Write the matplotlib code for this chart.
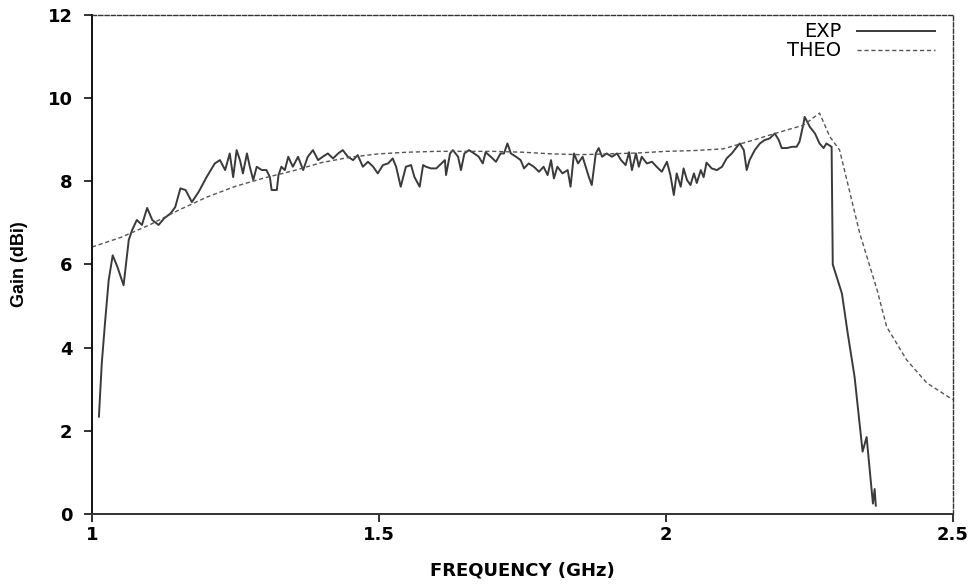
import matplotlib.pyplot as plt
from matplotlib.lines import Line2D

# measured gain (EXP)
exp_freq = [1.012, 1.017, 1.023, 1.029, 1.036, 1.044, 1.055, 1.064, 1.070, 1.078,
            1.087, 1.096, 1.105, 1.116, 1.125, 1.137, 1.145, 1.154, 1.163, 1.174,
            1.186, 1.200, 1.214, 1.223, 1.232, 1.240, 1.246, 1.252, 1.258, 1.263,
            1.270, 1.275, 1.281, 1.287, 1.296, 1.304, 1.310, 1.313, 1.322, 1.325,
            1.330, 1.336, 1.342, 1.350, 1.359, 1.368, 1.376, 1.385, 1.394, 1.402,
            1.411, 1.420, 1.429, 1.437, 1.446, 1.455, 1.463, 1.472, 1.481, 1.490,
            1.498, 1.507, 1.516, 1.524, 1.530, 1.538, 1.547, 1.556, 1.562, 1.571,
            1.577, 1.582, 1.591, 1.600, 1.606, 1.615, 1.617, 1.624, 1.629, 1.638,
            1.643, 1.649, 1.657, 1.666, 1.674, 1.681, 1.686, 1.695, 1.704, 1.712,
            1.718, 1.724, 1.730, 1.739, 1.747, 1.753, 1.761, 1.770, 1.779, 1.787,
            1.794, 1.800, 1.805, 1.811, 1.820, 1.829, 1.834, 1.840, 1.847, 1.855,
            1.866, 1.871, 1.878, 1.883, 1.889, 1.897, 1.906, 1.915, 1.922, 1.930,
            1.936, 1.941, 1.948, 1.953, 1.958, 1.967, 1.976, 1.984, 1.993, 2.002,
            2.008, 2.014, 2.019, 2.026, 2.031, 2.037, 2.043, 2.049, 2.054, 2.061,
            2.066, 2.071, 2.080, 2.089, 2.098, 2.106, 2.115, 2.124, 2.129, 2.136,
            2.141, 2.146, 2.155, 2.164, 2.172, 2.181, 2.190, 2.197, 2.202, 2.211,
            2.220, 2.228, 2.233, 2.240, 2.242, 2.251, 2.260, 2.268, 2.275, 2.280,
            2.289, 2.291, 2.307, 2.317, 2.329, 2.343, 2.350, 2.361, 2.364, 2.366]
exp_gain = [2.34, 3.63, 4.66, 5.62, 6.22, 5.95, 5.50, 6.59, 6.83, 7.07,
            6.95, 7.36, 7.07, 6.95, 7.10, 7.23, 7.38, 7.83, 7.79, 7.50,
            7.75, 8.11, 8.43, 8.51, 8.27, 8.67, 8.10, 8.75, 8.50, 8.19,
            8.67, 8.35, 8.03, 8.35, 8.27, 8.27, 8.10, 7.79, 7.79, 8.15,
            8.35, 8.27, 8.59, 8.35, 8.59, 8.27, 8.59, 8.75, 8.51, 8.59,
            8.67, 8.55, 8.67, 8.75, 8.59, 8.51, 8.63, 8.35, 8.47, 8.35,
            8.19, 8.39, 8.43, 8.55, 8.35, 7.87, 8.35, 8.39, 8.10, 7.87,
            8.39, 8.35, 8.31, 8.31, 8.39, 8.51, 8.15, 8.67, 8.75, 8.59,
            8.27, 8.67, 8.75, 8.67, 8.59, 8.43, 8.70, 8.59, 8.47, 8.67,
            8.67, 8.91, 8.67, 8.59, 8.51, 8.31, 8.43, 8.35, 8.23, 8.35,
            8.15, 8.51, 8.07, 8.35, 8.19, 8.27, 7.87, 8.67, 8.43, 8.59,
            8.10, 7.91, 8.67, 8.80, 8.59, 8.67, 8.59, 8.67, 8.51, 8.39,
            8.70, 8.27, 8.67, 8.35, 8.59, 8.43, 8.47, 8.35, 8.23, 8.47,
            8.15, 7.67, 8.19, 7.87, 8.31, 8.03, 7.91, 8.19, 7.96, 8.27,
            8.10, 8.45, 8.31, 8.27, 8.35, 8.55, 8.67, 8.83, 8.91, 8.75,
            8.27, 8.51, 8.75, 8.91, 8.99, 9.03, 9.15, 8.99, 8.80, 8.80,
            8.83, 8.83, 8.95, 9.39, 9.55, 9.31, 9.15, 8.91, 8.80, 8.91,
            8.83, 6.00, 5.30, 4.35, 3.30, 1.50, 1.85, 0.25, 0.60, 0.20]

# theoretical gain (THEO)
theo_freq = [1.0, 1.05, 1.1, 1.15, 1.2, 1.25, 1.3, 1.35, 1.4, 1.45,
             1.5, 1.55, 1.6, 1.65, 1.7, 1.75, 1.8, 1.85, 1.9, 1.95,
             2.0, 2.05, 2.1, 2.15, 2.19, 2.24, 2.268, 2.286, 2.303, 2.338,
             2.368, 2.385, 2.42, 2.455, 2.5]
theo_gain = [6.42, 6.65, 6.95, 7.30, 7.62, 7.88, 8.08, 8.25, 8.45, 8.58,
             8.66, 8.70, 8.72, 8.72, 8.72, 8.70, 8.66, 8.64, 8.66, 8.68,
             8.72, 8.74, 8.78, 8.98, 9.15, 9.35, 9.64, 9.07, 8.75, 6.75,
             5.40, 4.50, 3.70, 3.15, 2.75]

x_ticks = [1, 1.5, 2, 2.5]
x_labels = ["1", "1.5", "2", "2.5"]
y_ticks = [0, 2, 4, 6, 8, 10, 12]

fig = plt.figure(figsize=(9.76, 5.87), dpi=100)
ax = fig.add_axes([0.0943, 0.1244, 0.8818, 0.8501])

ax.plot(exp_freq, exp_gain, color="#3a3a3a", lw=1.4, label="EXP")
ax.plot(theo_freq, theo_gain, color="#555555", lw=1.0, dashes=(3, 2), label="THEO")

ax.set_xlim(1, 2.5)
ax.set_ylim(0, 12)
ax.set_xticks(x_ticks)
ax.set_xticklabels(x_labels)
ax.set_yticks(y_ticks)

tick_font = {"family": "DejaVu Sans", "weight": "bold", "size": 13}
for lab in ax.get_xticklabels() + ax.get_yticklabels():
    lab.set_fontproperties(tick_font)
ax.tick_params(axis="both", direction="out", length=6, width=1.3, color="#222222")
ax.tick_params(axis="y", pad=8)
ax.tick_params(axis="x", pad=3)

# frame: solid left/bottom, dashed top/right
ax.spines["left"].set_linewidth(1.4)
ax.spines["left"].set_color("#111111")
ax.spines["bottom"].set_linewidth(1.4)
ax.spines["bottom"].set_color("#333333")
for side in ["top", "right"]:
    ax.spines[side].set_linestyle((0, (3, 1.5)))
    ax.spines[side].set_linewidth(1.0)
    ax.spines[side].set_color("#333333")

ax.set_xlabel("FREQUENCY (GHz)", fontfamily="DejaVu Sans", fontweight="bold",
              fontsize=13, labelpad=12)
ax.set_ylabel("Gain (dBi)", fontfamily="Liberation Sans", fontweight="bold",
              fontsize=13, labelpad=14)

leg = ax.legend(loc="upper right", bbox_to_anchor=(0.979, 0.985), markerfirst=False,
                frameon=False, fontsize=14, handlelength=4.0, handletextpad=0.8,
                labelspacing=0.0, borderpad=0, borderaxespad=0)
for t in leg.get_texts():
    t.set_fontfamily("DejaVu Sans")

fig.savefig("out.png", dpi=100, facecolor="white")
